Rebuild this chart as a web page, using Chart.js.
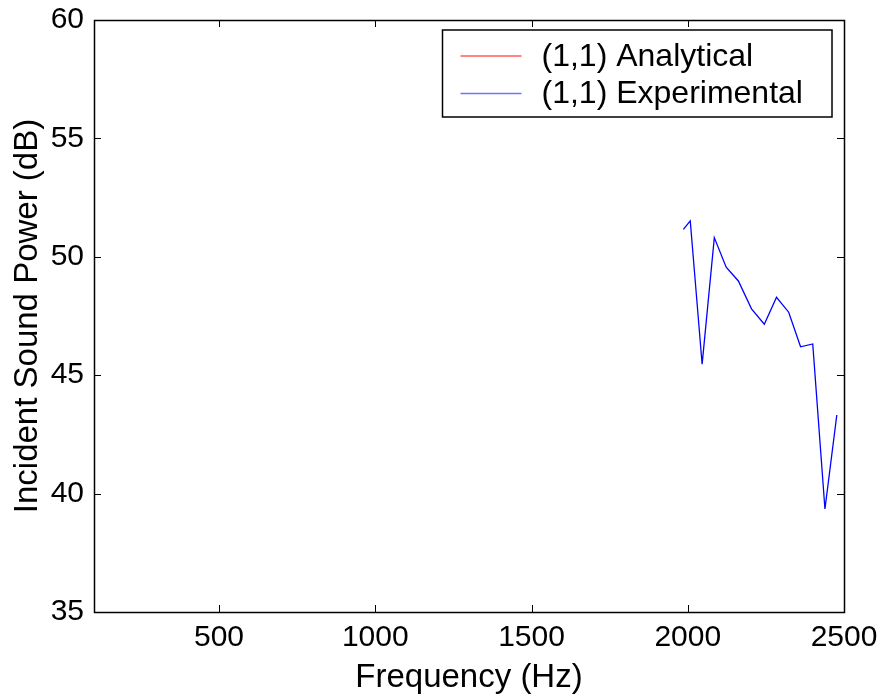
<!DOCTYPE html>
<html>
<head>
<meta charset="utf-8">
<title>Incident Sound Power</title>
<script src="https://cdn.jsdelivr.net/npm/chart.js@4.4.1/dist/chart.umd.min.js"></script>
<style>
  html, body { margin: 0; padding: 0; background: #ffffff; }
  #wrap { width: 886px; height: 698px; }
</style>
</head>
<body>
<div id="wrap"><canvas id="chart" width="886" height="698"></canvas></div>
<script>
// Measured incident sound power for the (1,1) mode
const frequencyHz = [1986, 2008, 2046, 2085, 2123, 2162, 2204, 2245, 2284, 2323, 2361, 2400, 2439, 2477];
const experimentalDb = [51.16, 51.52, 45.46, 50.81, 49.56, 48.98, 47.80, 47.15, 48.29, 47.66, 46.20, 46.32, 39.35, 43.32];
// Analytical prediction has no points inside the plotted window
const analyticalHz = [];
const analyticalDb = [];

const xTicks = [500, 1000, 1500, 2000, 2500];
const yTicks = [35, 40, 45, 50, 55, 60];
const seriesNames = ['(1,1) Analytical', '(1,1) Experimental'];
const seriesColors = ['#ff0000', '#0000ff'];
const legendColors = ['rgba(255,60,60,0.85)', 'rgba(90,90,255,0.85)'];

const FONT = 'Liberation Sans, Arial, Helvetica, sans-serif';

function toPoints(xs, ys) {
  return xs.map((x, i) => ({ x: x, y: ys[i] }));
}

// Box around the axes with inward tick marks on all four sides
const frameTicks = {
  id: 'frameTicks',
  afterDatasetsDraw(chart) {
    const { ctx, chartArea: a, scales } = chart;
    const len = 7;
    ctx.save();
    ctx.strokeStyle = '#000000';
    ctx.lineWidth = 1;
    ctx.beginPath();
    scales.x.ticks.forEach(t => {
      const px = Math.round(scales.x.getPixelForValue(t.value)) + 0.5;
      ctx.moveTo(px, a.bottom); ctx.lineTo(px, a.bottom - len);
      ctx.moveTo(px, a.top); ctx.lineTo(px, a.top + len);
    });
    scales.y.ticks.forEach(t => {
      const py = Math.round(scales.y.getPixelForValue(t.value)) + 0.5;
      ctx.moveTo(a.left, py); ctx.lineTo(a.left + len, py);
      ctx.moveTo(a.right, py); ctx.lineTo(a.right - len, py);
    });
    ctx.stroke();
    ctx.lineWidth = 1.5;
    ctx.strokeRect(Math.round(a.left) + 0.5, Math.round(a.top) + 0.5,
                   Math.round(a.right - a.left), Math.round(a.bottom - a.top));
    ctx.restore();
  }
};

// Legend box in the upper right corner of the axes
const boxedLegend = {
  id: 'boxedLegend',
  afterDraw(chart) {
    const { ctx, chartArea: a } = chart;
    const boxRight = a.right - 12;
    const boxTop = a.top + 10;
    const boxLeft = 442.5;
    const rowH = 37.5;
    const boxH = 87;
    ctx.save();
    ctx.fillStyle = '#ffffff';
    ctx.fillRect(boxLeft, boxTop, boxRight - boxLeft, boxH);
    ctx.strokeStyle = '#000000';
    ctx.lineWidth = 1.5;
    ctx.strokeRect(boxLeft, boxTop, boxRight - boxLeft, boxH);
    ctx.font = '32px ' + FONT;
    ctx.textBaseline = 'middle';
    ctx.textAlign = 'left';
    seriesNames.forEach((name, i) => {
      const y = boxTop + 26 + i * rowH;
      ctx.strokeStyle = legendColors[i];
      ctx.lineWidth = 1.6;
      ctx.beginPath();
      ctx.moveTo(boxLeft + 18, y);
      ctx.lineTo(boxLeft + 79, y);
      ctx.stroke();
      ctx.fillStyle = '#000000';
      ctx.fillText(name, boxLeft + 99, y + 1);
    });
    ctx.restore();
  }
};

new Chart(document.getElementById('chart'), {
  type: 'line',
  data: {
    datasets: [
      {
        label: seriesNames[0],
        data: toPoints(analyticalHz, analyticalDb),
        borderColor: seriesColors[0],
        borderWidth: 1,
        pointRadius: 0,
        tension: 0
      },
      {
        label: seriesNames[1],
        data: toPoints(frequencyHz, experimentalDb),
        borderColor: seriesColors[1],
        borderWidth: 1.3,
        pointRadius: 0,
        tension: 0
      }
    ]
  },
  options: {
    responsive: false,
    animation: false,
    events: [],
    layout: { padding: { top: 20, right: 42, left: 0, bottom: 0 } },
    plugins: { legend: { display: false }, tooltip: { enabled: false } },
    scales: {
      x: {
        type: 'linear',
        min: 100,
        max: 2500,
        afterBuildTicks(scale) { scale.ticks = xTicks.map(v => ({ value: v })); },
        afterFit(scale) { scale.height = 86; scale.paddingLeft = 0; scale.paddingRight = 0; },
        grid: { display: false, drawTicks: false },
        border: { display: false },
        ticks: { color: '#000000', font: { family: FONT, size: 30 }, padding: 8, maxRotation: 0,
                 callback: v => String(v) },
        title: { display: true, text: 'Frequency (Hz)', color: '#000000',
                 font: { family: FONT, size: 33 }, padding: { top: 0, bottom: 0 } }
      },
      y: {
        type: 'linear',
        min: 35,
        max: 60,
        afterBuildTicks(scale) { scale.ticks = yTicks.map(v => ({ value: v })); },
        afterFit(scale) { scale.width = 94; scale.paddingTop = 0; scale.paddingBottom = 0; },
        grid: { display: false, drawTicks: false },
        border: { display: false },
        ticks: { color: '#000000', font: { family: FONT, size: 30 }, padding: 10,
                 callback: v => String(v) },
        title: { display: true, text: 'Incident Sound Power (dB)', color: '#000000',
                 font: { family: FONT, size: 33 }, padding: { top: 8, bottom: 0 } }
      }
    }
  },
  plugins: [frameTicks, boxedLegend]
});
</script>
</body>
</html>
